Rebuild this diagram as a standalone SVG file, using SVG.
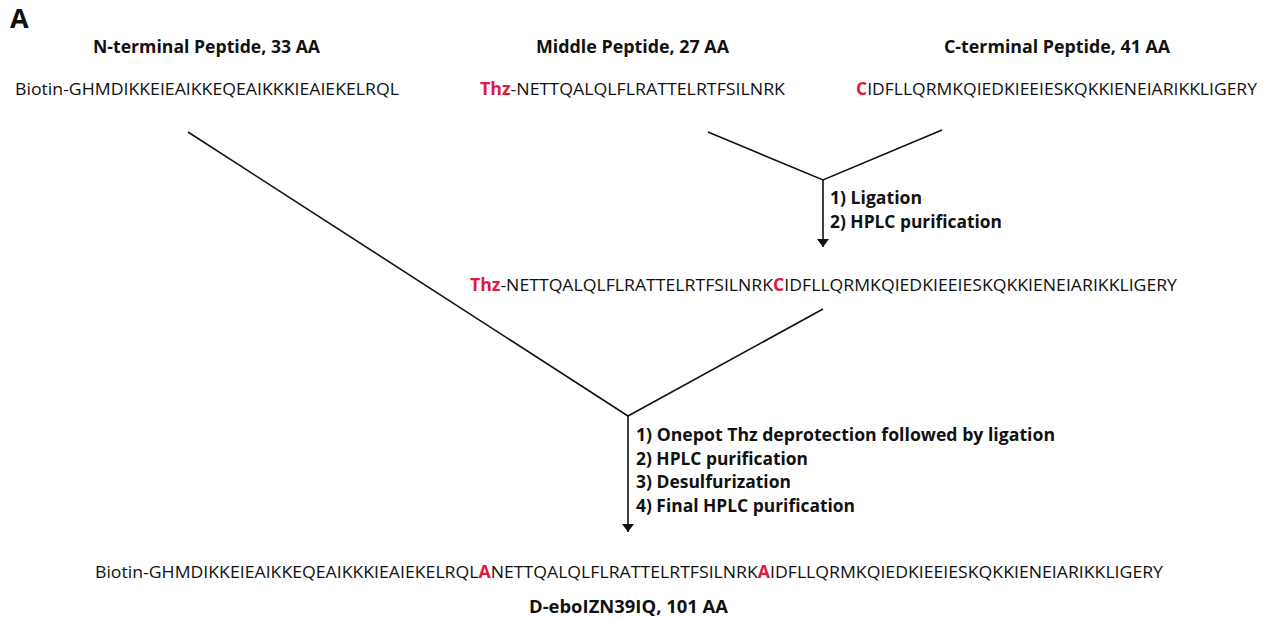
<svg xmlns="http://www.w3.org/2000/svg" width="1270" height="619" viewBox="0 0 1270 619">
<style>
.seq{font-family:"Open Sans","Liberation Sans",sans-serif;font-size:17px;fill:#111}
.hd{font-family:"Open Sans","Liberation Sans",sans-serif;font-size:17px;font-weight:bold;fill:#111}
.red{fill:#e3173e;font-weight:bold}
.ln{stroke:#111;stroke-width:1.6;fill:none}
</style>
<defs>
<marker id="ah" viewBox="0 0 8 12" refX="8" refY="6" markerWidth="8" markerHeight="12" markerUnits="userSpaceOnUse" orient="auto">
<path d="M0,0 L8,6 L0,12 Z" fill="#111"/>
</marker>
</defs>
<rect width="1270" height="619" fill="#fff"/>
<text x="10" y="28" font-family="Open Sans, Liberation Sans, sans-serif" font-size="27" font-weight="bold" fill="#111">A</text>

<g id="nterm">
<text class="hd" x="93" y="53" textLength="227" lengthAdjust="spacingAndGlyphs">N-terminal Peptide, 33 AA</text>
<text class="seq" x="15" y="95" textLength="384" lengthAdjust="spacingAndGlyphs">Biotin-GHMDIKKEIEAIKKEQEAIKKKIEAIEKELRQL</text>
</g>
<g id="middle">
<text class="hd" x="536" y="53" textLength="193" lengthAdjust="spacingAndGlyphs">Middle Peptide, 27 AA</text>
<text class="seq" x="480" y="95" textLength="305" lengthAdjust="spacingAndGlyphs"><tspan class="red">Thz</tspan>-NETTQALQLFLRATTELRTFSILNRK</text>
</g>
<g id="cterm">
<text class="hd" x="944" y="53" textLength="226" lengthAdjust="spacingAndGlyphs">C-terminal Peptide, 41 AA</text>
<text class="seq" x="856" y="95" textLength="401" lengthAdjust="spacingAndGlyphs"><tspan class="red">C</tspan>IDFLLQRMKQIEDKIEEIESKQKKIENEIARIKKLIGERY</text>
</g>
<g id="intermediate">
<text class="seq" x="470" y="291" textLength="707" lengthAdjust="spacingAndGlyphs"><tspan class="red">Thz</tspan>-NETTQALQLFLRATTELRTFSILNRK<tspan class="red">C</tspan>IDFLLQRMKQIEDKIEEIESKQKKIENEIARIKKLIGERY</text>
</g>
<g id="step1">
<text class="hd" x="830" y="204" textLength="92" lengthAdjust="spacingAndGlyphs">1) Ligation</text>
<text class="hd" x="830" y="228" textLength="172" lengthAdjust="spacingAndGlyphs">2) HPLC purification</text>
</g>
<g id="step2">
<text class="hd" x="636" y="441" textLength="419" lengthAdjust="spacingAndGlyphs">1) Onepot Thz deprotection followed by ligation</text>
<text class="hd" x="636" y="465" textLength="172" lengthAdjust="spacingAndGlyphs">2) HPLC purification</text>
<text class="hd" x="636" y="488" textLength="155" lengthAdjust="spacingAndGlyphs">3) Desulfurization</text>
<text class="hd" x="636" y="512" textLength="219" lengthAdjust="spacingAndGlyphs">4) Final HPLC purification</text>
</g>
<g id="final">
<text class="seq" x="95" y="578" textLength="1068" lengthAdjust="spacingAndGlyphs">Biotin-GHMDIKKEIEAIKKEQEAIKKKIEAIEKELRQL<tspan class="red">A</tspan>NETTQALQLFLRATTELRTFSILNRK<tspan class="red">A</tspan>IDFLLQRMKQIEDKIEEIESKQKKIENEIARIKKLIGERY</text>
<text class="hd" x="529" y="613" textLength="199" lengthAdjust="spacingAndGlyphs">D-eboIZN39IQ, 101 AA</text>
</g>
<g id="connectors">
<polyline class="ln" points="708,132 823,180 942,130"/>
<line class="ln" x1="823" y1="180" x2="823" y2="247" marker-end="url(#ah)"/>
<polyline class="ln" points="188,132 628,416 823,309"/>
<line class="ln" x1="628" y1="416" x2="628" y2="532" marker-end="url(#ah)"/>
</g>
</svg>
